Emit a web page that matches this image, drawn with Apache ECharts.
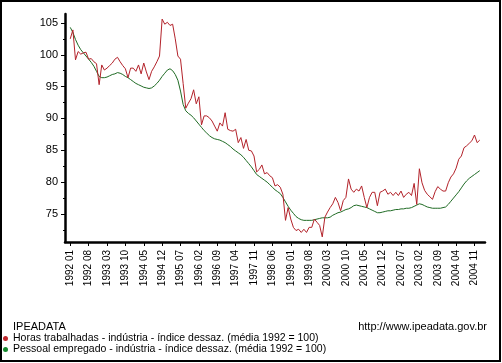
<!DOCTYPE html>
<html>
<head>
<meta charset="utf-8">
<script src="https://cdn.jsdelivr.net/npm/echarts@6/dist/echarts.min.js"></script>
<style>
html,body{margin:0;padding:0;background:#fff;}
#chart{width:502px;height:363px;}
</style>
</head>
<body>
<div id="chart"></div>
<script>
// Monthly series, 1992 01 .. 2005 01
var horas = [
102.5,103.9,99.2,100.5,100.1,100.3,100.4,99.3,99.4,98.9,98.6,95.3,
98.4,97.6,97.9,98.3,98.7,99.3,99.6,98.9,98.3,97.8,96.4,97.9,
97.9,97.4,98.4,97.0,98.7,97.3,96.1,97.4,98.1,98.9,99.8,105.6,
104.8,105.1,104.6,104.8,102.5,99.8,99.3,95.5,91.6,92.4,93.1,94.5,
92.3,93.4,89.0,90.4,90.4,90.1,89.6,88.8,88.0,89.3,88.8,90.9,
88.3,88.1,88.0,88.3,86.2,87.0,85.3,86.7,85.0,84.9,84.1,81.6,
82.0,82.7,81.3,81.5,81.0,80.7,79.4,79.6,79.2,78.1,74.0,76.0,
74.2,72.9,72.4,72.6,72.1,72.6,72.1,72.9,72.9,74.2,73.7,73.2,
71.4,74.5,75.3,76.0,76.6,77.6,76.8,75.5,77.1,77.6,80.5,78.9,
78.4,78.9,78.6,79.4,77.6,76.0,77.6,78.4,78.4,76.3,78.4,78.6,
78.9,78.1,78.4,77.9,78.4,77.9,78.6,77.6,78.1,78.4,77.9,79.8,
76.5,82.1,79.9,78.7,78.1,77.7,77.3,78.5,79.3,78.9,78.6,78.6,
79.9,80.8,81.3,82.2,83.6,84.1,85.4,85.7,86.1,86.5,87.4,86.2,
86.6
];
var pessoal = [
104.3,103.5,102.4,101.5,100.8,100.3,99.8,99.3,98.8,98.2,97.4,96.6,
96.4,96.4,96.5,96.7,96.9,97.0,97.2,97.1,96.9,96.6,96.4,96.1,
95.8,95.5,95.3,95.1,94.9,94.8,94.7,94.8,95.1,95.5,96.0,96.6,
97.1,97.6,97.8,97.5,96.9,96.0,94.3,92.2,91.2,90.8,90.5,90.1,
89.6,89.1,88.6,88.1,87.7,87.3,87.0,86.8,86.7,86.6,86.4,86.2,
85.9,85.6,85.2,84.9,84.6,84.3,83.9,83.4,82.9,82.4,81.8,81.2,
80.9,80.6,80.3,80.0,79.6,79.2,78.8,78.5,78.2,77.6,76.9,76.2,
75.6,75.1,74.6,74.3,74.1,74.0,74.0,74.0,74.0,74.1,74.2,74.3,
74.4,74.4,74.4,74.5,74.8,75.0,75.2,75.3,75.5,75.7,75.8,76.0,
76.3,76.4,76.3,76.2,76.1,76.0,75.8,75.6,75.4,75.2,75.2,75.3,
75.4,75.5,75.5,75.6,75.7,75.7,75.8,75.8,75.9,75.9,76.0,76.2,
76.4,76.6,76.5,76.3,76.1,76.0,75.9,75.9,75.9,75.9,76.0,76.1,
76.5,77.0,77.5,78.0,78.5,79.1,79.7,80.2,80.6,80.9,81.2,81.5,
81.8
];
// x tick labels, one every 7 months starting at 1992 01
var tickLabels = ['1992 01','1992 08','1993 03','1993 10','1994 05','1994 12','1995 07','1996 02','1996 09','1997 04','1997 11','1998 06','1999 01','1999 08','2000 03','2000 10','2001 05','2001 12','2002 07','2003 02','2003 09','2004 04','2004 11'];
var labelStep = 7;
var yMajor = [75,80,85,90,95,100,105];
var yMinor = [72.5,77.5,82.5,87.5,92.5,97.5,102.5];
var seriesNames = ['Horas trabalhadas - indústria - índice dessaz. (média 1992 = 100)','Pessoal empregado - indústria - índice dessaz. (média 1992 = 100)'];

var tickPos = tickLabels.map(function(_, k){ return k * labelStep; });
var FONT = 'Liberation Sans, Arial, sans-serif';

var chart = echarts.init(document.getElementById('chart'), null, {renderer:'canvas'});
chart.setOption({
  animation: false,
  backgroundColor: '#fff',
  textStyle: {fontFamily: FONT},
  grid: {left: 65, right: 17, top: 14, bottom: 121},
  title: [
    {text: 'IPEADATA', left: 13, top: 321, padding: 0, textStyle: {fontFamily: FONT, fontSize: 11, fontWeight: 'normal', color: '#000'}},
    {text: 'http://www.ipeadata.gov.br', right: 15, top: 321, padding: 0, textStyle: {fontFamily: FONT, fontSize: 11, fontWeight: 'normal', color: '#000'}}
  ],
  legend: {
    orient: 'vertical', left: 3, top: 333, itemGap: 0,
    itemWidth: 5, itemHeight: 5, icon: 'circle',
    data: seriesNames,
    textStyle: {fontFamily: FONT, fontSize: 10.5, color: '#000', lineHeight: 10},
    padding: 0
  },
  xAxis: {
    type: 'value', min: -2, max: 158,
    splitLine: {show: false},
    axisLine: {show: true, onZero: false, lineStyle: {color: '#000', width: 2.5}},
    axisTick: {show: true, length: 4, customValues: tickPos, lineStyle: {color: '#000'}},
    axisLabel: {
      customValues: tickPos, rotate: 90, margin: 8,
      fontFamily: FONT, fontSize: 10, color: '#000',
      formatter: function(v){ return tickLabels[Math.round(v / labelStep)]; }
    }
  },
  yAxis: [{
    type: 'value', min: 70.6, max: 106.4,
    splitLine: {show: false},
    axisLine: {show: true, onZero: false, lineStyle: {color: '#000', width: 2.5}},
    axisTick: {show: true, length: 4, customValues: yMajor, lineStyle: {color: '#000'}},
    axisLabel: {customValues: yMajor, margin: 7, fontFamily: FONT, fontSize: 11, color: '#000'}
  },{
    type: 'value', min: 70.6, max: 106.4, position: 'left',
    splitLine: {show: false},
    axisLine: {show: false, onZero: false},
    axisTick: {show: true, length: 2, customValues: yMinor, lineStyle: {color: '#000'}},
    axisLabel: {show: false}
  }],
  series: [{
    name: seriesNames[1], type: 'line', showSymbol: false,
    itemStyle: {color: '#168a2e'},
    lineStyle: {color: '#1f6b24', width: 1},
    data: pessoal.map(function(v, i){ return [i, v]; })
  },{
    name: seriesNames[0], type: 'line', showSymbol: false,
    itemStyle: {color: '#c0282d'},
    lineStyle: {color: '#b3222a', width: 1},
    data: horas.map(function(v, i){ return [i, v]; })
  }],
  graphic: [{
    type: 'rect', shape: {x: 1, y: 1, width: 499, height: 360},
    style: {fill: null, stroke: '#000', lineWidth: 2}, silent: true, z: 100
  }]
});
</script>
</body>
</html>
